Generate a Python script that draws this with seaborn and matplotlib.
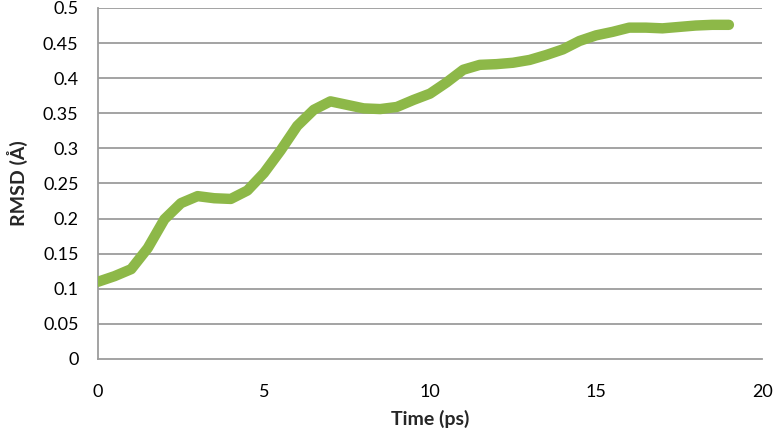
import numpy as np
import pandas as pd
import matplotlib
matplotlib.use("Agg")
import matplotlib.pyplot as plt
import seaborn as sns

# RMSD over the simulation time (every 0.5 ps)
time_ps = [0, 0.5, 1, 1.5, 2, 2.5, 3, 3.5, 4, 4.5,
           5, 5.5, 6, 6.5, 7, 7.5, 8, 8.5, 9, 9.5,
           10, 10.5, 11, 11.5, 12, 12.5, 13, 13.5, 14, 14.5,
           15, 15.5, 16, 16.5, 17, 17.5, 18, 18.5, 19]
rmsd = [0.110, 0.118, 0.128, 0.158, 0.199, 0.222, 0.232, 0.229, 0.228, 0.240,
        0.265, 0.297, 0.332, 0.355, 0.367, 0.362, 0.357, 0.356, 0.359, 0.369,
        0.378, 0.394, 0.412, 0.419, 0.420, 0.422, 0.426, 0.433, 0.441, 0.453,
        0.461, 0.466, 0.472, 0.472, 0.471, 0.473, 0.475, 0.476, 0.476]

x_ticks = [0, 5, 10, 15, 20]
y_ticks = [0, 0.05, 0.1, 0.15, 0.2, 0.25, 0.3, 0.35, 0.4, 0.45, 0.5]
y_ticklabels = ["0", "0.05", "0.1", "0.15", "0.2", "0.25", "0.3", "0.35", "0.4", "0.45", "0.5"]

sns.set_theme(style="white")
plt.rcParams['font.family'] = ['Lato', 'DejaVu Sans']

df = pd.DataFrame({"Time": time_ps, "RMSD": rmsd})

fig = plt.figure(figsize=(7.74, 4.29), dpi=100)
ax = fig.add_axes([0.1266, 0.1632, 0.858, 0.8182])

for yv in y_ticks[1:]:
    ax.axhline(yv, color="#9c9c9c", lw=1.3, zorder=0)

sns.lineplot(data=df, x="Time", y="RMSD", ax=ax, color="#8db848", linewidth=7.5,
             solid_joinstyle="round", solid_capstyle="round", zorder=3)

ax.set_xlim(0, 20)
ax.set_ylim(0, 0.5)
ax.set_xticks(x_ticks)
ax.set_xticklabels([str(v) for v in x_ticks])
ax.set_yticks(y_ticks)
ax.set_yticklabels(y_ticklabels)
ax.tick_params(axis="both", length=0, labelsize=13, colors="#000000")
ax.tick_params(axis="y", pad=14)
ax.tick_params(axis="x", pad=18)

for side in ["top", "right"]:
    ax.spines[side].set_visible(False)
for side in ["left", "bottom"]:
    ax.spines[side].set_color("#9c9c9c")
    ax.spines[side].set_linewidth(1.3)

ax.set_xlabel("Time (ps)", fontsize=14, fontweight="bold", labelpad=7)
ax.set_ylabel("RMSD (Å)", fontsize=14, fontweight="bold", labelpad=11)

fig.savefig("out.png", dpi=100)
